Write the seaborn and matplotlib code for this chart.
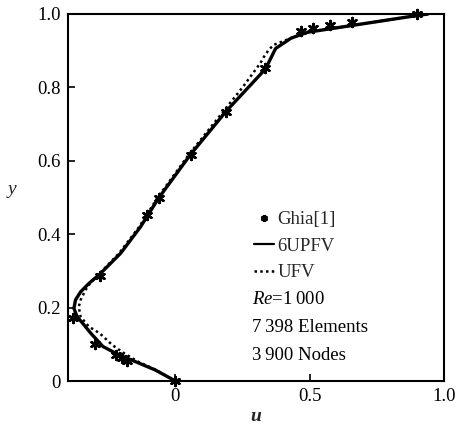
import numpy as np
import pandas as pd
import matplotlib
matplotlib.use("Agg")
import matplotlib.pyplot as plt
import seaborn as sns
from matplotlib.lines import Line2D

sns.set_theme(style="white")
plt.rcParams['font.family'] = ['Liberation Serif', 'DejaVu Serif']
plt.rcParams['mathtext.fontset'] = 'custom'
plt.rcParams['mathtext.rm'] = 'Liberation Serif'
plt.rcParams['mathtext.it'] = 'Liberation Serif:italic'

# Ghia[1] reference points
ghia_u = [0.0, -0.18, -0.20, -0.22, -0.30, -0.38, -0.28, -0.106, -0.06, 0.057,
          0.187, 0.333, 0.466, 0.511, 0.575, 0.659, 0.90]
ghia_y = [0.0, 0.055, 0.0625, 0.07, 0.10, 0.172, 0.285, 0.453, 0.50, 0.617,
          0.734, 0.852, 0.953, 0.961, 0.969, 0.977, 1.0]

# 6UPFV (solid)
upfv_y = [0, 0.030, 0.053, 0.071, 0.094, 0.13, 0.157, 0.175, 0.198, 0.221, 0.243,
          0.266, 0.293, 0.348, 0.42, 0.498, 0.617, 0.736, 0.85, 0.906, 0.934, 0.95,
          0.964, 0.978, 0.992, 1.0]
upfv_u = [0, -0.075, -0.15, -0.21, -0.27, -0.315, -0.345, -0.366, -0.378, -0.372, -0.353,
          -0.322, -0.279, -0.204, -0.13, -0.063, 0.056, 0.19, 0.335, 0.373, 0.43, 0.49,
          0.615, 0.74, 0.865, 0.94]

# UFV (dotted)
ufv_y = [0, 0.030, 0.053, 0.075, 0.098, 0.13, 0.148, 0.175, 0.202, 0.221, 0.248, 0.266,
         0.293, 0.348, 0.42, 0.498, 0.617, 0.736, 0.80, 0.867, 0.884, 0.902, 0.916,
         0.934, 0.95, 0.964, 0.978, 0.992, 1.0]
ufv_u = [0, -0.072, -0.14, -0.19, -0.235, -0.282, -0.322, -0.353, -0.36, -0.353, -0.335, -0.318,
         -0.282, -0.21, -0.135, -0.068, 0.05, 0.18, 0.25, 0.317, 0.33, 0.347, 0.366,
         0.43, 0.49, 0.615, 0.74, 0.865, 0.94]

x_ticks = [0, 0.5, 1.0]
x_labels = ["0", "0.5", "1.0"]
y_ticks = [0, 0.2, 0.4, 0.6, 0.8, 1.0]
y_labels = ["0", "0.2", "0.4", "0.6", "0.8", "1.0"]

fig = plt.figure(figsize=(4.59, 4.29), dpi=100)
ax = fig.add_axes([68/459, 1 - 381/429, 376/459, 367/429])

sns.lineplot(x=upfv_u, y=upfv_y, sort=False, estimator=None, color="black",
             linewidth=2.4, ax=ax)
sns.lineplot(x=ufv_u, y=ufv_y, sort=False, estimator=None, color="black",
             linewidth=1.8, linestyle=(0, (1, 1.3)), ax=ax)
sns.scatterplot(x=ghia_u, y=ghia_y, marker=(6, 2, 0), s=42, color="black",
                edgecolor="black", linewidth=1.8, ax=ax, clip_on=False, zorder=5)

ax.set_xlim(-0.4, 1.0)
ax.set_ylim(0, 1.0)
ax.set_xticks(x_ticks)
ax.set_xticklabels(x_labels)
ax.set_yticks(y_ticks)
ax.set_yticklabels(y_labels)
ax.tick_params(direction="in", length=5, width=1.2, labelsize=13.5, colors="black",
               left=True, bottom=True, pad=5)
for sp in ax.spines.values():
    sp.set_color("black")
    sp.set_linewidth(1.5)

ax.set_xlabel("u", fontsize=14, style="italic", fontweight="bold", labelpad=2)
ax.set_ylabel("y", fontsize=14, style="italic", rotation=0, labelpad=18)
ax.yaxis.set_label_coords(-0.15, 0.5)

handles = [
    Line2D([], [], marker=(6, 2, 0), color="black", linestyle="none",
           markersize=5, markeredgewidth=1.8),
    Line2D([], [], color="black", linewidth=1.6),
    Line2D([], [], color="black", linewidth=1.8, linestyle=(0, (1, 1.3))),
]
ax.legend(handles, ["Ghia[1]", "6UPFV", "UFV"], loc="upper left",
          bbox_to_anchor=(0.494, 0.463), frameon=False, fontsize=13.5,
          handlelength=1.1, handletextpad=0.15, labelspacing=0.5,
          borderpad=0, borderaxespad=0)

info = ["$Re$=1\u2009000", "7\u2009398 Elements", "3\u2009900 Nodes"]
for i, t in enumerate(info):
    ax.text(0.489, 0.223 - i * 0.077, t, transform=ax.transAxes, fontsize=13.5,
            va="center", ha="left", color="black")

fig.savefig("out.png", dpi=100)
